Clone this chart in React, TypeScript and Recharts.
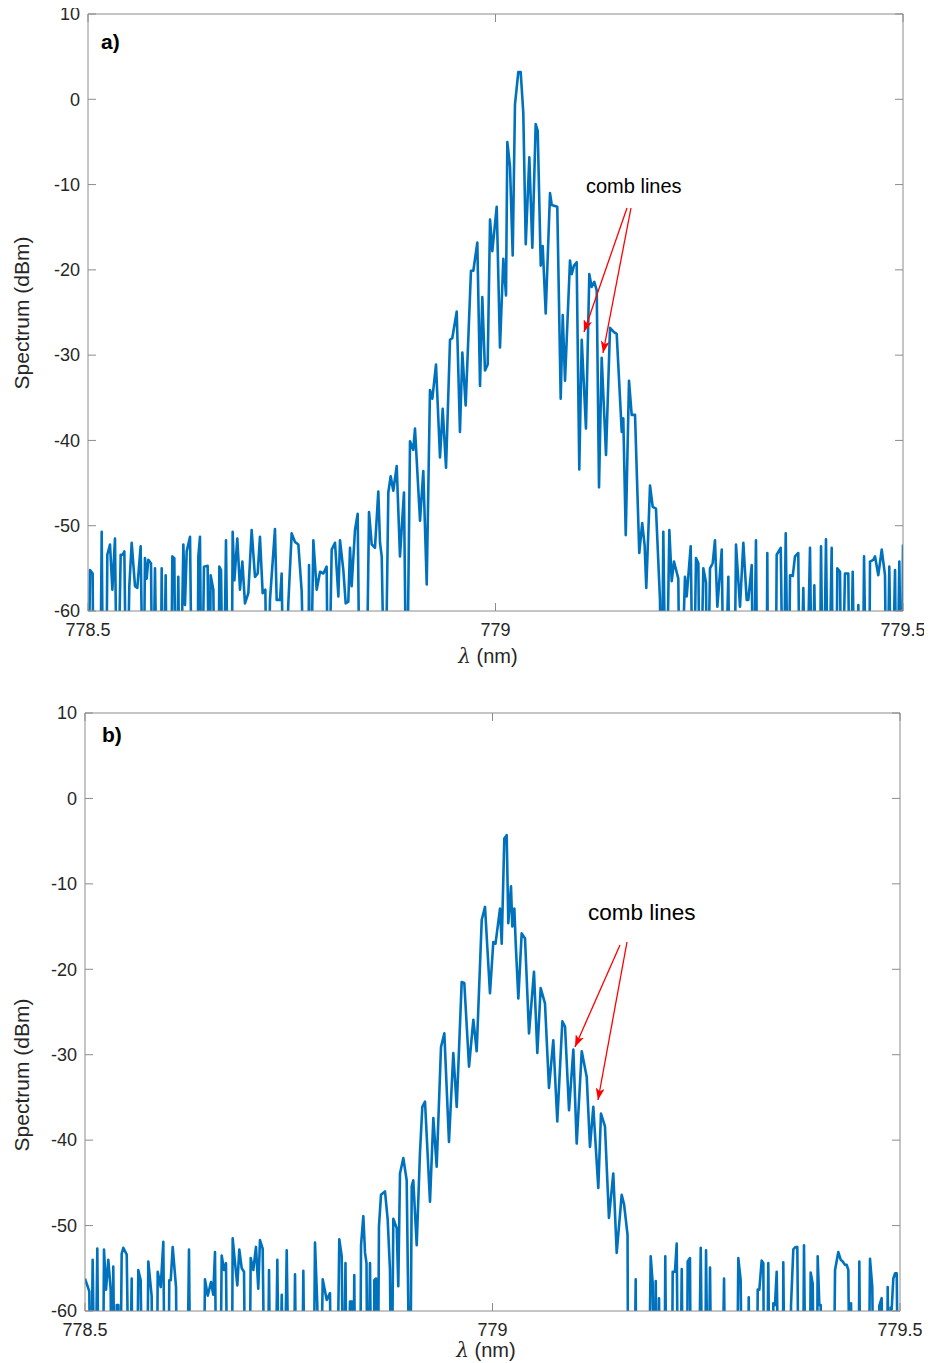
import React from 'react';
import { LineChart, Line, XAxis, YAxis } from 'recharts';

// wavelength (nm), power (dBm); values below -60 dBm fall off the axis
const xTicks = [778.5, 779, 779.5];
const yTicks = [-60, -50, -40, -30, -20, -10, 0, 10];

const spectrumA: [number, number][] = [
  [778.5000,-75],[778.5025,-55.2],[778.5057,-55.6],[778.5070,-75],[778.5147,-75],[778.5168,-50.7],[778.5188,-75],[778.5220,-75],
  [778.5237,-53.4],[778.5270,-52.2],[778.5299,-57.5],[778.5331,-51.5],[778.5360,-75],[778.5401,-53.4],[778.5425,-53.4],[778.5446,-53.0],
  [778.5474,-75],[778.5507,-57.1],[778.5536,-52.0],[778.5577,-57.1],[778.5605,-57.3],[778.5646,-52.4],[778.5679,-75],[778.5699,-53.8],
  [778.5720,-56.2],[778.5740,-54.0],[778.5773,-54.4],[778.5793,-75],[778.5822,-55.0],[778.5851,-75],[778.5890,-75],[778.5904,-55.0],
  [778.5924,-75],[778.5953,-55.8],[778.5973,-75],[778.6014,-75],[778.6035,-53.6],[778.6059,-53.8],[778.6080,-75],[778.6108,-56.0],
  [778.6129,-75],[778.6170,-52.2],[778.6190,-59.3],[778.6211,-53.0],[778.6252,-51.3],[778.6280,-75],[778.6340,-75],[778.6354,-53.6],
  [778.6374,-51.3],[778.6395,-75],[778.6423,-54.8],[778.6468,-54.7],[778.6489,-75],[778.6505,-55.8],[778.6538,-57.5],[778.6558,-75],
  [778.6600,-75],[778.6611,-54.8],[778.6632,-55.2],[778.6661,-75],[778.6693,-51.7],[778.6722,-75],[778.6760,-75],[778.6775,-50.7],
  [778.6796,-56.4],[778.6832,-51.5],[778.6865,-57.5],[778.6894,-54.2],[778.6926,-59.1],[778.6967,-57.9],[778.7008,-50.5],[778.7049,-56.0],
  [778.7082,-55.6],[778.7110,-51.3],[778.7143,-57.9],[778.7176,-57.5],[778.7200,-75],[778.7233,-58.7],[778.7294,-50.4],[778.7315,-58.7],
  [778.7356,-58.7],[778.7376,-55.6],[778.7405,-75],[778.7458,-59.1],[778.7499,-50.9],[778.7540,-51.9],[778.7581,-52.2],[778.7622,-57.7],
  [778.7663,-75],[778.7700,-75],[778.7712,-54.6],[778.7726,-75],[778.7765,-51.7],[778.7806,-57.5],[778.7847,-55.4],[778.7888,-55.6],
  [778.7928,-54.8],[778.7949,-75],[778.7990,-52.8],[778.8031,-52.0],[778.8072,-58.3],[778.8092,-51.7],[778.8133,-55.2],[778.8162,-59.1],
  [778.8194,-58.9],[778.8215,-52.6],[778.8235,-57.1],[778.8276,-50.5],[778.8309,-48.6],[778.8337,-75],[778.8411,-75],[778.8448,-48.4],
  [778.8481,-52.2],[778.8521,-52.6],[778.8562,-46.0],[778.8583,-52.0],[778.8604,-53.6],[778.8644,-75],[778.8685,-46.1],[778.8714,-44.2],
  [778.8746,-45.9],[778.8788,-43.0],[778.8828,-53.6],[778.8877,-46.1],[778.8910,-75],[778.8951,-40.1],[778.8991,-41.1],[778.9012,-38.6],
  [778.9074,-49.4],[778.9114,-43.6],[778.9156,-56.9],[778.9196,-34.1],[778.9225,-35.1],[778.9270,-31.1],[778.9319,-42.0],[778.9352,-36.3],
  [778.9393,-43.2],[778.9442,-28.2],[778.9470,-28.0],[778.9524,-24.9],[778.9564,-39.0],[778.9593,-29.7],[778.9634,-35.9],[778.9699,-20.1],
  [778.9728,-20.1],[778.9777,-16.8],[778.9810,-33.6],[778.9838,-23.2],[778.9871,-31.8],[778.9904,-31.1],[778.9933,-14.1],[778.9961,-17.8],
  [779.0015,-12.6],[779.0055,-29.1],[779.0096,-18.7],[779.0129,-23.0],[779.0145,-5.0],[779.0178,-7.9],[779.0211,-18.3],[779.0239,-0.6],
  [779.0280,3.2],[779.0309,3.2],[779.0341,-1.6],[779.0371,-17.0],[779.0415,-6.8],[779.0452,-17.4],[779.0493,-2.9],[779.0518,-3.7],
  [779.0555,-19.5],[779.0579,-17.2],[779.0616,-25.1],[779.0669,-11.0],[779.0690,-12.4],[779.0758,-12.6],[779.0800,-35.1],[779.0825,-25.3],
  [779.0853,-33.0],[779.0914,-18.9],[779.0935,-20.5],[779.0963,-19.5],[779.0996,-19.1],[779.1028,-43.4],[779.1058,-28.2],[779.1110,-38.6],
  [779.1151,-20.5],[779.1180,-22.0],[779.1212,-21.4],[779.1242,-22.4],[779.1270,-45.5],[779.1303,-30.3],[779.1356,-41.7],[779.1405,-26.8],
  [779.1454,-27.3],[779.1487,-27.5],[779.1549,-39.0],[779.1568,-37.4],[779.1598,-51.1],[779.1638,-33.0],[779.1671,-37.0],[779.1712,-37.0],
  [779.1764,-53.2],[779.1800,-49.7],[779.1830,-52.3],[779.1850,-57.3],[779.1896,-45.3],[779.1929,-47.8],[779.1969,-48.0],[779.2018,-58.6],
  [779.2039,-75],[779.2059,-50.7],[779.2092,-75],[779.2133,-50.5],[779.2162,-56.5],[779.2190,-54.2],[779.2243,-56.2],[779.2264,-75],
  [779.2325,-56.0],[779.2346,-58.3],[779.2395,-52.4],[779.2427,-75],[779.2460,-53.8],[779.2489,-54.4],[779.2509,-75],[779.2550,-55.0],
  [779.2583,-56.7],[779.2599,-75],[779.2632,-55.0],[779.2665,-54.4],[779.2693,-51.7],[779.2722,-59.5],[779.2776,-52.8],[779.2804,-75],
  [779.2857,-56.0],[779.2877,-75],[779.2926,-75],[779.2951,-52.2],[779.3000,-59.5],[779.3041,-52.0],[779.3082,-58.7],[779.3102,-58.7],
  [779.3144,-54.6],[779.3163,-75],[779.3196,-51.7],[779.3217,-75],[779.3325,-75],[779.3335,-53.2],[779.3347,-75],[779.3436,-75],
  [779.3450,-53.4],[779.3500,-52.6],[779.3531,-75],[779.3561,-50.9],[779.3593,-75],[779.3614,-55.8],[779.3647,-55.9],[779.3675,-53.6],
  [779.3715,-53.2],[779.3736,-75],[779.3777,-57.3],[779.3810,-75],[779.3859,-52.6],[779.3887,-75],[779.3912,-57.0],[779.3941,-75],
  [779.3976,-75],[779.3994,-52.4],[779.4022,-75],[779.4055,-51.6],[779.4084,-75],[779.4125,-52.6],[779.4145,-75],[779.4178,-75],
  [779.4194,-55.0],[779.4227,-55.4],[779.4248,-75],[779.4288,-55.6],[779.4329,-55.6],[779.4350,-75],[779.4383,-55.4],[779.4411,-75],
  [779.4452,-59.3],[779.4472,-75],[779.4503,-75],[779.4522,-53.6],[779.4555,-75],[779.4583,-75],[779.4595,-54.2],[779.4636,-54.0],
  [779.4657,-53.6],[779.4697,-55.8],[779.4739,-52.8],[779.4779,-55.8],[779.4800,-75],[779.4832,-54.8],[779.4861,-75],[779.4902,-55.2],
  [779.4923,-75],[779.4955,-54.2],[779.4984,-75],[779.5000,-52.2],
];

const spectrumB: [number, number][] = [
  [778.5000,-56.2],[778.5028,-57.0],[778.5053,-57.7],[778.5070,-75],[778.5094,-54.0],[778.5123,-75],[778.5151,-52.7],[778.5172,-75],
  [778.5217,-75],[778.5233,-52.8],[778.5258,-57.5],[778.5286,-54.0],[778.5315,-57.5],[778.5328,-75],[778.5347,-54.8],[778.5368,-75],
  [778.5389,-59.3],[778.5409,-59.3],[778.5429,-75],[778.5450,-53.3],[778.5470,-52.6],[778.5512,-53.4],[778.5544,-75],[778.5573,-56.2],
  [778.5585,-75],[778.5634,-75],[778.5654,-55.2],[778.5683,-56.4],[778.5708,-75],[778.5757,-75],[778.5777,-54.2],[778.5818,-58.3],
  [778.5831,-75],[778.5880,-75],[778.5892,-55.4],[778.5929,-57.2],[778.5961,-51.9],[778.5982,-75],[778.6022,-75],[778.6034,-56.4],
  [778.6052,-56.4],[778.6076,-52.5],[778.6117,-57.2],[778.6133,-75],[778.6248,-75],[778.6276,-52.8],[778.6297,-75],[778.6452,-75],
  [778.6472,-56.3],[778.6506,-58.2],[778.6546,-56.6],[778.6574,-58.1],[778.6595,-53.1],[778.6616,-75],[778.6656,-75],[778.6677,-53.5],
  [778.6706,-55.2],[778.6730,-54.4],[778.6751,-75],[778.6800,-75],[778.6812,-51.5],[778.6841,-54.4],[778.6869,-57.0],[778.6893,-52.8],
  [778.6923,-55.0],[778.6951,-55.4],[778.6972,-75],[778.7016,-75],[778.7033,-53.8],[778.7065,-55.2],[778.7098,-52.5],[778.7126,-57.4],
  [778.7147,-51.7],[778.7180,-52.7],[778.7209,-75],[778.7237,-75],[778.7258,-55.2],[778.7279,-75],[778.7331,-75],[778.7360,-54.0],
  [778.7384,-75],[778.7414,-58.1],[778.7442,-75],[778.7475,-52.9],[778.7507,-75],[778.7556,-75],[778.7577,-55.7],[778.7598,-75],
  [778.7659,-75],[778.7679,-55.3],[778.7699,-75],[778.7801,-75],[778.7822,-52.0],[778.7850,-59.2],[778.7883,-75],[778.7917,-56.3],
  [778.7945,-57.7],[778.7966,-58.7],[778.8006,-57.9],[778.8027,-75],[778.8088,-75],[778.8120,-51.6],[778.8150,-53.6],[778.8172,-75],
  [778.8196,-54.4],[778.8215,-75],[778.8252,-58.9],[778.8276,-58.9],[778.8288,-75],[778.8304,-55.8],[778.8319,-75],[778.8374,-75],
  [778.8387,-52.3],[778.8415,-48.9],[778.8436,-53.2],[778.8454,-54.4],[778.8469,-75],[778.8497,-54.4],[778.8518,-75],[778.8540,-75],
  [778.8550,-56.4],[778.8571,-56.2],[778.8591,-75],[778.8607,-50.1],[778.8632,-46.4],[778.8681,-46.0],[778.8714,-49.3],[778.8742,-55.2],
  [778.8761,-75],[778.8783,-49.2],[778.8825,-50.3],[778.8844,-57.1],[778.8865,-43.9],[778.8906,-42.1],[778.8947,-44.7],[778.8988,-75],
  [778.9009,-45.4],[778.9028,-44.7],[778.9070,-52.3],[778.9110,-41.5],[778.9139,-36.1],[778.9172,-35.5],[778.9233,-47.2],[778.9274,-37.4],
  [778.9315,-43.1],[778.9368,-29.1],[778.9409,-27.5],[778.9466,-40.2],[778.9519,-29.8],[778.9561,-36.1],[778.9622,-21.5],[778.9654,-21.6],
  [778.9712,-31.4],[778.9765,-25.9],[778.9806,-29.6],[778.9868,-14.2],[778.9908,-12.7],[778.9969,-22.8],[779.0010,-16.8],[779.0037,-17.0],
  [779.0092,-12.9],[779.0113,-17.0],[779.0145,-4.7],[779.0174,-4.3],[779.0194,-14.6],[779.0227,-10.3],[779.0243,-15.0],[779.0268,-12.9],
  [779.0285,-17.0],[779.0317,-23.4],[779.0358,-15.8],[779.0399,-16.4],[779.0448,-27.5],[779.0509,-20.3],[779.0550,-29.8],[779.0591,-22.2],
  [779.0644,-24.0],[779.0693,-33.9],[779.0746,-28.3],[779.0795,-37.8],[779.0857,-26.1],[779.0890,-26.7],[779.0939,-36.5],[779.0992,-29.4],
  [779.1033,-40.4],[779.1095,-29.6],[779.1156,-32.6],[779.1196,-40.8],[779.1237,-36.1],[779.1298,-45.6],[779.1331,-36.9],[779.1380,-38.4],
  [779.1429,-49.1],[779.1482,-43.9],[779.1524,-53.2],[779.1585,-46.4],[779.1614,-47.5],[779.1657,-51.1],[779.1666,-75],[779.1736,-75],
  [779.1757,-56.3],[779.1769,-75],[779.1912,-75],[779.1941,-53.6],[779.1966,-56.8],[779.1985,-75],[779.2003,-56.5],[779.2022,-75],
  [779.2043,-58.5],[779.2064,-75],[779.2108,-75],[779.2120,-53.6],[779.2138,-75],[779.2199,-75],[779.2211,-55.4],[779.2239,-55.4],
  [779.2260,-52.1],[779.2280,-75],[779.2301,-75],[779.2322,-55.1],[779.2341,-75],[779.2383,-75],[779.2395,-54.2],[779.2423,-53.8],
  [779.2436,-75],[779.2525,-75],[779.2555,-52.6],[779.2579,-75],[779.2607,-75],[779.2620,-52.9],[779.2648,-75],[779.2669,-54.9],
  [779.2690,-75],[779.2812,-75],[779.2841,-56.2],[779.2861,-75],[779.2996,-75],[779.3016,-53.8],[779.3045,-56.4],[779.3065,-75],
  [779.3131,-75],[779.3144,-58.4],[779.3160,-75],[779.3242,-75],[779.3254,-57.5],[779.3274,-57.5],[779.3303,-54.1],[779.3323,-54.4],
  [779.3335,-75],[779.3364,-75],[779.3384,-54.4],[779.3405,-75],[779.3438,-75],[779.3446,-59.1],[779.3466,-59.3],[779.3487,-55.4],
  [779.3519,-75],[779.3561,-75],[779.3568,-54.3],[779.3589,-75],[779.3650,-75],[779.3663,-59.3],[779.3691,-52.8],[779.3720,-52.5],
  [779.3740,-52.5],[779.3761,-75],[779.3806,-75],[779.3822,-52.3],[779.3847,-75],[779.3887,-75],[779.3904,-55.5],[779.3929,-56.8],
  [779.3949,-75],[779.3978,-75],[779.3990,-53.6],[779.4010,-59.3],[779.4027,-59.3],[779.4039,-75],[779.4182,-75],[779.4203,-55.2],
  [779.4243,-53.1],[779.4272,-54.0],[779.4297,-54.2],[779.4325,-54.6],[779.4346,-54.6],[779.4366,-55.2],[779.4387,-75],[779.4399,-59.1],
  [779.4420,-75],[779.4488,-75],[779.4501,-54.2],[779.4518,-75],[779.4611,-75],[779.4632,-53.9],[779.4660,-57.2],[779.4681,-75],
  [779.4734,-75],[779.4746,-59.4],[779.4775,-58.5],[779.4795,-75],[779.4837,-75],[779.4849,-57.2],[779.4869,-75],[779.4886,-59.6],
  [779.4898,-59.8],[779.4918,-56.2],[779.4939,-55.6],[779.4960,-55.6],[779.4979,-75],[779.5000,-75],
];

const BLUE = '#0072BD';
const AXIS = '#8c8c8c';
const TEXT = '#262626';
const FONT = '"Liberation Sans", Arial, Helvetica, sans-serif';
const TICK_FS = 18;

const LeftTick = (props: any) => {
  const { x, y, payload } = props;
  return (
    <g>
      <line x1={x} y1={y} x2={x + 8} y2={y} stroke={AXIS} strokeWidth={1} />
      <text x={x - 8} y={y} dy="0.35em" textAnchor="end" fontSize={TICK_FS} fill={TEXT} fontFamily={FONT}>
        {String(payload.value)}
      </text>
    </g>
  );
};
const RightTick = (props: any) => {
  const { x, y } = props;
  return <line x1={x} y1={y} x2={x - 8} y2={y} stroke={AXIS} strokeWidth={1} />;
};
const BottomTick = (props: any) => {
  const { x, y, payload } = props;
  return (
    <g>
      <line x1={x} y1={y} x2={x} y2={y - 8} stroke={AXIS} strokeWidth={1} />
      <text x={x} y={y + 19} dy="0.35em" textAnchor="middle" fontSize={TICK_FS} fill={TEXT} fontFamily={FONT}>
        {String(payload.value)}
      </text>
    </g>
  );
};
const TopTick = (props: any) => {
  const { x, y } = props;
  return <line x1={x} y1={y} x2={x} y2={y + 8} stroke={AXIS} strokeWidth={1} />;
};

type PanelProps = {
  data: [number, number][];
  width: number;
  height: number;
  margin: { top: number; right: number; bottom: number; left: number };
};

const Panel = ({ data, width, height, margin }: PanelProps) => {
  const rows = data.map(([l, p]) => ({ l, p }));
  return (
    <LineChart width={width} height={height} data={rows} margin={margin}>
      <XAxis
        dataKey="l" type="number" domain={[778.5, 779.5]} ticks={xTicks} allowDataOverflow interval={0}
        height={1} tickLine={false} tickSize={0} tickMargin={0} axisLine={{ stroke: AXIS }} tick={<BottomTick />}
      />
      <XAxis
        xAxisId="top" orientation="top" dataKey="l" type="number" domain={[778.5, 779.5]} ticks={xTicks}
        allowDataOverflow interval={0} height={1} tickLine={false} tickSize={0} tickMargin={0}
        axisLine={{ stroke: AXIS }} tick={<TopTick />}
      />
      <YAxis
        type="number" domain={[-60, 10]} ticks={yTicks} allowDataOverflow interval={0} width={1}
        tickLine={false} tickSize={0} tickMargin={0} axisLine={{ stroke: AXIS }} tick={<LeftTick />}
      />
      <YAxis
        yAxisId="right" orientation="right" type="number" domain={[-60, 10]} ticks={yTicks} allowDataOverflow
        interval={0} width={1} tickLine={false} tickSize={0} tickMargin={0} axisLine={{ stroke: AXIS }} tick={<RightTick />}
      />
      <Line
        dataKey="p" type="linear" stroke={BLUE} strokeWidth={2.6} dot={false} activeDot={false}
        isAnimationActive={false} strokeLinejoin="round"
      />
    </LineChart>
  );
};

const Lambda = ({ x, y }: { x: number; y: number }) => (
  <text x={x} y={y} dy="0.35em" textAnchor="middle" fontSize={20} fill={TEXT} fontFamily={FONT}>
    <tspan fontStyle="italic" fontFamily='"DejaVu Serif", serif'>λ</tspan> (nm)
  </text>
);

export default function App() {
  return (
    <div style={{ position: 'relative', width: 916, height: 1354, background: '#fff' }}>
      <div style={{ position: 'absolute', left: 0, top: -8 }}>
        <Panel data={spectrumA} width={924} height={688} margin={{ top: 13, right: 28, bottom: 76, left: 79 }} />
      </div>
      <div style={{ position: 'absolute', left: 0, top: 680 }}>
        <Panel data={spectrumB} width={924} height={667} margin={{ top: 24, right: 31, bottom: 43, left: 76 }} />
      </div>
      <svg
        width={916} height={1354}
        style={{ position: 'absolute', left: 0, top: 0, pointerEvents: 'none', overflow: 'visible' }}
      >
        <defs>
          <marker id="redHead" markerWidth="13" markerHeight="9" refX="12" refY="4.5" orient="auto" markerUnits="userSpaceOnUse">
            <path d="M0,0 L12,4.5 L0,9 L3,4.5 z" fill="#ff0000" />
          </marker>
        </defs>
        <text x={14} y={305} transform="rotate(-90 14 305)" dy="0.35em" textAnchor="middle" fontSize={21} fill={TEXT} fontFamily={FONT}>
          Spectrum (dBm)
        </text>
        <text x={14} y={1067} transform="rotate(-90 14 1067)" dy="0.35em" textAnchor="middle" fontSize={21} fill={TEXT} fontFamily={FONT}>
          Spectrum (dBm)
        </text>
        <Lambda x={480} y={648} />
        <Lambda x={478} y={1342} />
        <text x={93} y={34} dy="0.35em" fontSize={21} fontWeight="bold" fill="#000" fontFamily={FONT}>a)</text>
        <text x={94} y={727} dy="0.35em" fontSize={21} fontWeight="bold" fill="#000" fontFamily={FONT}>b)</text>
        <text x={578} y={178} dy="0.35em" fontSize={20} fill="#000" fontFamily={FONT}>comb lines</text>
        <text x={580} y={904} dy="0.35em" fontSize={22.5} fill="#000" fontFamily={FONT}>comb lines</text>
        <line x1={619} y1={200} x2={576} y2={324} stroke="#ff0000" strokeWidth={1.3} markerEnd="url(#redHead)" />
        <line x1={623} y1={200} x2={595} y2={345} stroke="#ff0000" strokeWidth={1.3} markerEnd="url(#redHead)" />
        <line x1={612} y1={937} x2={567} y2={1039} stroke="#ff0000" strokeWidth={1.3} markerEnd="url(#redHead)" />
        <line x1={619} y1={934} x2={590} y2={1092} stroke="#ff0000" strokeWidth={1.3} markerEnd="url(#redHead)" />
      </svg>
    </div>
  );
}
